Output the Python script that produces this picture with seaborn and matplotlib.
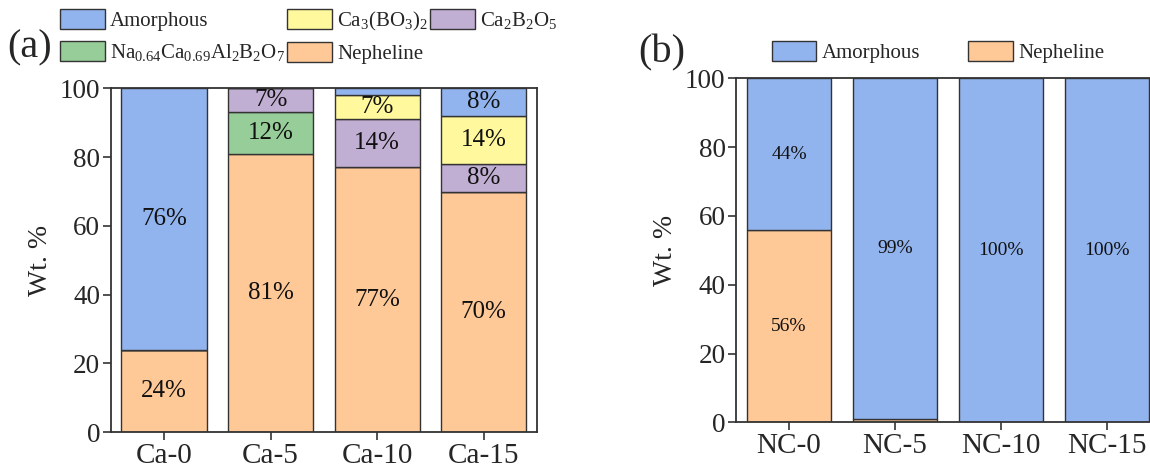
import numpy as np
import pandas as pd
import matplotlib
matplotlib.use("Agg")
import matplotlib.pyplot as plt
import seaborn as sns

# Phase composition (wt. %) of the Ca-series glasses, bottom to top of each stack
samples_a = ["Ca-0", "Ca-5", "Ca-10", "Ca-15"]
nepheline_a = [24, 81, 77, 70]
na_phase_a = [0, 12, 0, 0]
ca2b2o5_a = [0, 7, 14, 8]
ca3bo32_a = [0, 0, 7, 14]
amorphous_a = [76, 0, 2, 8]

# Phase composition (wt. %) of the NC-series glasses
samples_b = ["NC-0", "NC-5", "NC-10", "NC-15"]
nepheline_b = [56, 1, 0, 0]
amorphous_b = [44, 99, 100, 100]

yticks = [0, 20, 40, 60, 80, 100]

names = {
    "amorphous": "Amorphous",
    "ca3": r"Ca$_3$(BO$_3$)$_2$",
    "ca2": r"Ca$_2$B$_2$O$_5$",
    "na": r"Na$_{0.64}$Ca$_{0.69}$Al$_2$B$_2$O$_7$",
    "nepheline": "Nepheline",
}
colors = {
    "amorphous": "#92b4ee",
    "ca3": "#fff89c",
    "ca2": "#c1aed3",
    "na": "#97cd98",
    "nepheline": "#fec897",
}
EDGE = "#333333"

sns.set_theme(style="ticks")
plt.rcParams["font.family"] = ["Liberation Serif", "DejaVu Serif"]
plt.rcParams["mathtext.fontset"] = "custom"
plt.rcParams["mathtext.rm"] = "Liberation Serif"
plt.rcParams["mathtext.it"] = "Liberation Serif:italic"
plt.rcParams["mathtext.bf"] = "Liberation Serif:bold"


def stacked(ax, cats, layers, label_size):
    base = np.zeros(len(cats))
    conts = {}
    for key, vals in layers:
        vals = np.asarray(vals, dtype=float)
        df = pd.DataFrame({"sample": cats, "wt": vals})
        sns.barplot(data=df, x="sample", y="wt", ax=ax, color=colors[key],
                    saturation=1, width=0.8, edgecolor=EDGE, linewidth=1.0,
                    bottom=base, errorbar=None)
        cont = ax.containers[-1]
        labels = [f"{v:.0f}%" if v >= 5 else "" for v in vals]
        ax.bar_label(cont, labels=labels, label_type="center",
                     fontsize=label_size, color="#111111")
        conts[key] = cont
        base = base + vals
    return conts


def style_axes(ax):
    ax.set_ylim(0, 100)
    ax.set_xlim(-0.5, 3.5)
    ax.set_yticks(yticks)
    ax.set_xlabel("")
    ax.set_ylabel("Wt. %", fontsize=20, labelpad=5)
    for s in ax.spines.values():
        s.set_visible(True)
        s.set_color("#333333")
        s.set_linewidth(1.3)
    ax.tick_params(axis="y", direction="out", length=6, width=1.2,
                   labelsize=19.5, color="#333333", pad=1.5)
    ax.tick_params(axis="x", direction="out", length=6, width=1.2,
                   labelsize=21, color="#333333", pad=2)
    ax.tick_params(right=False, top=False)


fig = plt.figure(figsize=(11.5, 4.68), dpi=100)
ax_a = fig.add_axes([0.0963, 0.0763, 0.3707, 0.735])
ax_b = fig.add_axes([0.640, 0.0976, 0.3687, 0.735])

conts_a = stacked(ax_a, samples_a, [
    ("nepheline", nepheline_a),
    ("na", na_phase_a),
    ("ca2", ca2b2o5_a),
    ("ca3", ca3bo32_a),
    ("amorphous", amorphous_a),
], 18)
style_axes(ax_a)

conts_b = stacked(ax_b, samples_b, [
    ("nepheline", nepheline_b),
    ("amorphous", amorphous_b),
], 14)
style_axes(ax_b)

legend_kw = dict(frameon=False, fontsize=15, handlelength=2.15,
                 handleheight=1.1, handletextpad=0.25, borderpad=0,
                 borderaxespad=0)

order_a = ["amorphous", "na", "ca3", "nepheline", "ca2"]
fig.legend([conts_a[k] for k in order_a], [names[k] for k in order_a],
           ncol=3, loc="upper left", bbox_to_anchor=(0.052, 0.98),
           columnspacing=0.12, labelspacing=0.45, **legend_kw)

order_b = ["amorphous", "nepheline"]
fig.legend([conts_b[k] for k in order_b], [names[k] for k in order_b],
           ncol=2, loc="upper left", bbox_to_anchor=(0.671, 0.912),
           columnspacing=2.3, **legend_kw)

fig.text(0.006, 0.897, "(a)", fontsize=29, va="center", ha="left")
fig.text(0.555, 0.888, "(b)", fontsize=29, va="center", ha="left")

fig.savefig("out.png", dpi=100)
